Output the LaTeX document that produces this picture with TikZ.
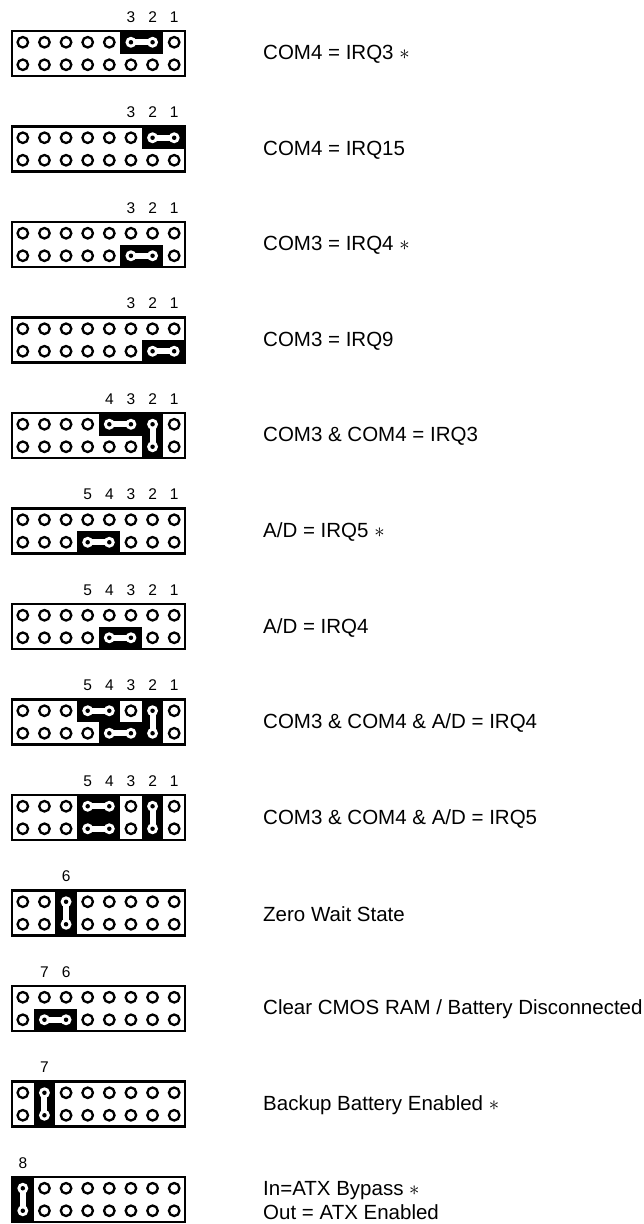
\documentclass[tikz,border=0pt]{standalone}
\usepackage{fontspec}
\setmainfont{Liberation Sans}
\usetikzlibrary{positioning}

\begin{document}
\begin{tikzpicture}[
    x=1pt, y=-1pt,
    pin/.style={circle, draw, line width=2.3pt, fill=white, minimum size=10.5pt, inner sep=0pt},
    hole/.style={circle, fill=white, minimum size=11pt, inner sep=0pt},
    dot/.style={circle, fill=black, minimum size=4.5pt, inner sep=0pt},
    frame/.style={draw, line width=2.4pt},
    jumpcap/.style={fill=black},
    bridge/.style={draw=white, line width=6pt},
    pinnum/.style={font=\fontsize{15.5}{18}\selectfont, inner sep=0pt},
    setting/.style={font=\fontsize{20.5}{24}\selectfont, anchor=west, inner sep=0pt, align=left}
]
\useasboundingbox (0,0) rectangle (643,1224);

\foreach \n/\labs/\jmps/\txt in {
    0/{6/3,7/2,8/1}/{6/7/1/1}/{COM4 = IRQ3 $\ast$},
    1/{6/3,7/2,8/1}/{7/8/1/1}/{COM4 = IRQ15},
    2/{6/3,7/2,8/1}/{6/7/2/2}/{COM3 = IRQ4 $\ast$},
    3/{6/3,7/2,8/1}/{7/8/2/2}/{COM3 = IRQ9},
    4/{5/4,6/3,7/2,8/1}/{5/6/1/1,7/7/1/2}/{COM3 \& COM4 = IRQ3},
    5/{4/5,5/4,6/3,7/2,8/1}/{4/5/2/2}/{A/D = IRQ5 $\ast$},
    6/{4/5,5/4,6/3,7/2,8/1}/{5/6/2/2}/{A/D = IRQ4},
    7/{4/5,5/4,6/3,7/2,8/1}/{4/5/1/1,5/6/2/2,7/7/1/2}/{COM3 \& COM4 \& A/D = IRQ4},
    8/{4/5,5/4,6/3,7/2,8/1}/{4/5/1/1,4/5/2/2,7/7/1/2}/{COM3 \& COM4 \& A/D = IRQ5},
    9/{3/6}/{3/3/1/2}/{Zero Wait State},
    10/{2/7,3/6}/{2/3/2/2}/{Clear CMOS RAM / Battery Disconnected},
    11/{2/7}/{2/2/1/2}/{Backup Battery Enabled $\ast$},
    12/{1/8}/{1/1/1/2}/{In=ATX Bypass $\ast$\\Out = ATX Enabled}%
}{
    \pgfmathsetmacro\yt{31+95.5*\n}
    \foreach \r in {1,2}
        \foreach \c in {1,...,8}
            \node[pin] (p\n-\r-\c) at ({12+(\c-0.5)*21.625}, {\yt+(\r-0.5)*22.5}) {};
    \foreach \ca/\cb/\ra/\rb in \jmps {
        \fill[jumpcap] ({12+(\ca-1)*21.625}, {\yt+(\ra-1)*22.5}) rectangle ({12+\cb*21.625}, {\yt+\rb*22.5});
        \node[hole] (h\n-\ca-\ra) at (p\n-\ra-\ca) {};
        \node[hole] (h\n-\cb-\rb) at (p\n-\rb-\cb) {};
        \draw[bridge] (h\n-\ca-\ra.center) -- (h\n-\cb-\rb.center);
        \node[dot] (d\n-\ca-\ra) at (h\n-\ca-\ra) {};
        \node[dot] (d\n-\cb-\rb) at (h\n-\cb-\rb) {};
    }
    \draw[frame] (12,\yt) rectangle (185,\yt+45);
    \foreach \c/\k in \labs
        \node[pinnum] (l\n-\c) at ({12+(\c-0.5)*21.625}, \yt-14) {\k};
    \node[setting] (t\n) at (263, \yt+23.5) {\txt};
}
\end{tikzpicture}
\end{document}
